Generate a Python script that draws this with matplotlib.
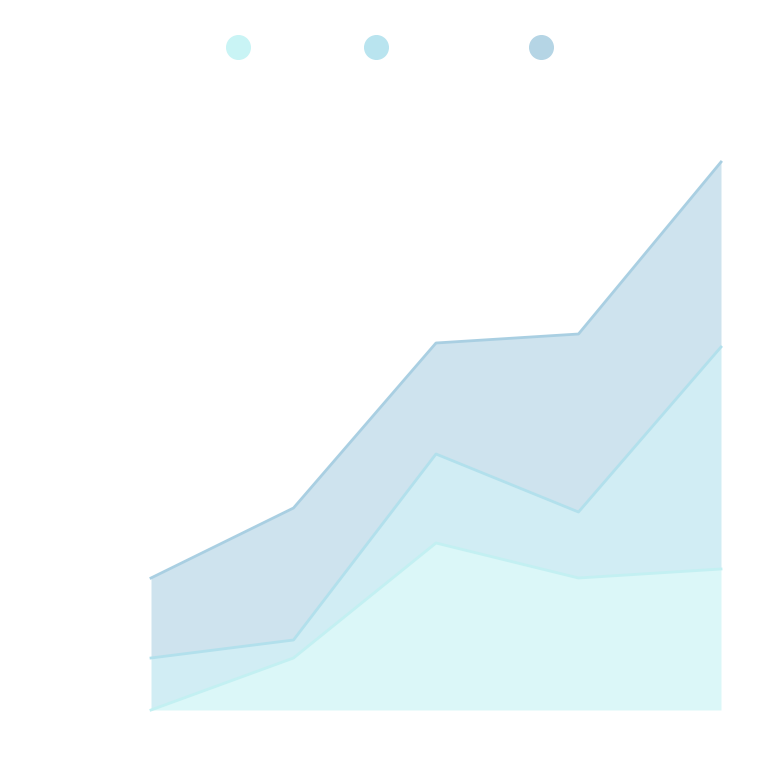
import matplotlib
matplotlib.use("Agg")
import matplotlib.pyplot as plt
from matplotlib.lines import Line2D
import numpy as np

# categories along x (no labels shown in the chart)
x = np.arange(5)
series_a = [0, 52, 167, 132, 141]
series_b = [52, 18, 89, 66, 222]
series_c = [80, 132, 111, 178, 185]

fill_colors = ['#c9f4f5', '#b9e4ef', '#b5d5e5']
line_colors = ['#c3f0f2', '#b2e0ec', '#a9cfe2']

fig = plt.figure(figsize=(7.6, 7.68), dpi=100)
ax = fig.add_axes([151/760, 1 - 710/768, 570/760, 600/768])

stack = np.vstack([series_a, series_b, series_c])
cum = np.cumsum(stack, axis=0)
lower = np.zeros(len(x))
for i in range(3):
    ax.fill_between(x, lower, cum[i], color=fill_colors[i], alpha=0.65, lw=0)
    ax.plot(x, cum[i], color=line_colors[i], lw=2, clip_on=False)
    lower = cum[i]

ax.set_xlim(0, 4)
ax.set_ylim(0, 600)
ax.axis('off')

# legend dots (labels are empty in the reference)
for cx, c in zip([238, 376, 541], fill_colors):
    fig.add_artist(Line2D([cx/760], [1 - 47/768], transform=fig.transFigure,
                          marker='o', markersize=17, color=c, lw=0))

fig.savefig('out.png', dpi=100)
